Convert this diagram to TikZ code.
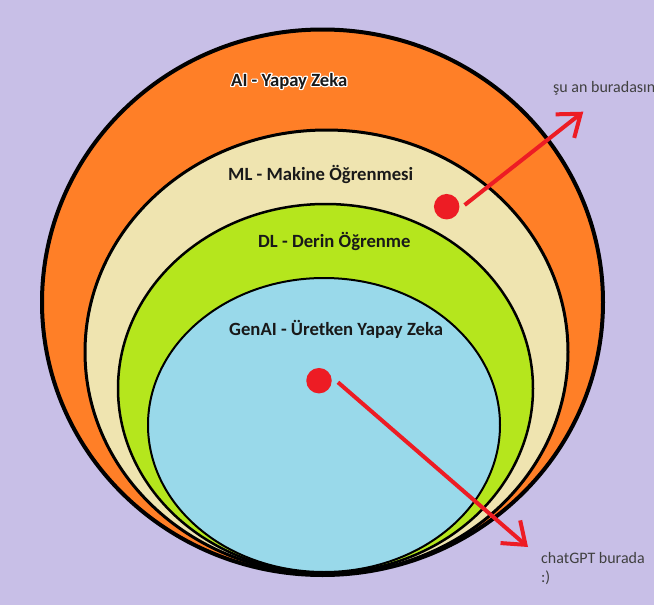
\documentclass[tikz,border=0pt]{standalone}
\usepackage{fontspec}
\setmainfont{Carlito}
\usetikzlibrary{arrows.meta}
\definecolor{bgc}{RGB}{200,191,231}
\definecolor{aic}{RGB}{255,127,39}
\definecolor{mlc}{RGB}{239,228,176}
\definecolor{dlc}{RGB}{181,230,29}
\definecolor{gac}{RGB}{153,217,234}
\definecolor{redc}{RGB}{237,28,36}
\definecolor{txtc}{RGB}{64,64,64}
\newcommand\myhalo[1]{\leavevmode\rlap{\special{pdf:literal 1 1 1 RG 2.4 w 1 j 1 Tr}#1\special{pdf:literal 0 Tr}}#1}
\begin{document}
\begin{tikzpicture}[x=1pt,y=-1pt,
  ring/.style={draw=black},
  lbl/.style={inner sep=0pt,anchor=base west,text=black!90,font=\bfseries\fontsize{18.67}{22}\selectfont},
  note/.style={inner sep=0pt,anchor=base west,text=txtc,font=\fontsize{16}{19.5}\selectfont},
  dot/.style={circle,fill=redc,inner sep=0pt,minimum size=25.5pt},
  arr/.style={draw=redc,line width=4pt,-{Straight Barb[length=20pt,width=30pt]}}]
\fill[bgc] (0,0) rectangle (654,605);
\useasboundingbox (0,0) rectangle (654,605);
% nested ellipses
\filldraw[ring,fill=aic,line width=4pt] (322.5,302.25) ellipse [x radius=280.5,y radius=272.75];
\filldraw[ring,fill=mlc,line width=3pt] (326.5,352) ellipse [x radius=241.5,y radius=222];
\filldraw[ring,fill=dlc,line width=2.5pt] (325.5,388.5) ellipse [x radius=207.5,y radius=184.5];
\filldraw[ring,fill=gac,line width=2pt] (324,425) ellipse [x radius=176,y radius=147];
% labels
\node[lbl] (ai) at (231,86) {\myhalo{AI - Yapay Zeka}};
\node[lbl] (ml) at (228,180) {ML - Makine Öğrenmesi};
\node[lbl] (dl) at (258,247) {DL - Derin Öğrenme};
\node[lbl] (ga) at (229,335) {GenAI - Üretken Yapay Zeka};
% red dots
\node[dot] (d1) at (446.7,206.7) {};
\node[dot] (d2) at (319,380.7) {};
% arrow ends
\coordinate (s1) at ([shift={(5,-1.7)}]d1.east);
\coordinate (t1) at (583.3,111.7);
\coordinate (s2) at ([shift={(6,1.6)}]d2.east);
\coordinate (t2) at (528,547);
\draw[arr] (s1) -- (t1);
\draw[arr] (s2) -- (t2);
% notes
\node[note] (n1) at (553,92) {şu an buradasın};
\node[note] (n2) at (541,563) {chatGPT burada};
\node[note] (n3) at (541,582.5) {:)};
\end{tikzpicture}
\end{document}
